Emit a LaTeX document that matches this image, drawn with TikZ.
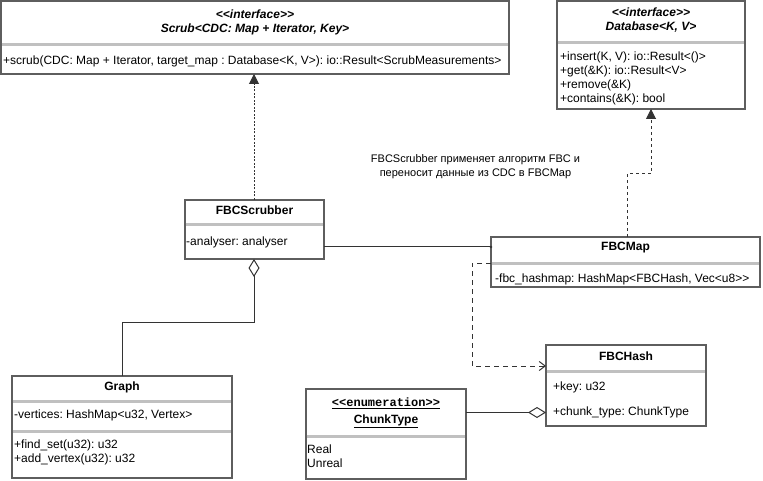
\documentclass[tikz,border=0pt]{standalone}
\usepackage{fontspec}
\setmainfont{Liberation Sans}[Ligatures=TeXOff]
\setmonofont{Liberation Mono}[Ligatures=TeXOff]
\usetikzlibrary{arrows.meta,calc}
\definecolor{bordc}{HTML}{5E5E5E}
\definecolor{sepc}{HTML}{C0C0C0}
\definecolor{linec}{HTML}{333333}
\frenchspacing
\begin{document}
\begin{tikzpicture}[x=1pt,y=-1pt,
  umlbox/.style={draw=bordc, line width=1.1pt, fill=white, anchor=north west, inner sep=0pt, outer sep=0pt},
  sepline/.style={draw=sepc, line width=3pt},
  ltxt/.style={inner sep=0pt, anchor=west, font=\fontsize{12}{14}\selectfont},
  ctitle/.style={inner sep=0pt, anchor=center, font=\fontsize{12}{14}\selectfont\bfseries},
  conn/.style={draw=linec, line width=1pt},
  realize/.style={conn, -{Triangle[length=10pt,width=10pt]}},
  aggr/.style={conn, -{Diamond[open,length=18pt,width=11pt]}},
  depend/.style={conn, dash pattern=on 5pt off 4pt, -{Straight Barb[length=6pt,width=9pt]}}
]
\useasboundingbox (0,0) rectangle (763,481);

% Scrub interface
\node[umlbox, minimum width=508pt, minimum height=73pt] (scrub) at (1,1) {};
\draw[sepline] (1.6,45) -- (508.4,45);
\node[ctitle] (scrubst) at (255,14) {\itshape <<interface>>};
\node[ctitle] (scrubname) at (255,29) {\itshape Scrub<CDC: Map + Iterator, Key>};
\node[ltxt] (scrubm) at (3,61) {+scrub(CDC: Map + Iterator, target\_map : Database<K, V>): io::Result<ScrubMeasurements>};

% Database interface
\node[umlbox, minimum width=188pt, minimum height=108pt] (db) at (557,1) {};
\draw[sepline] (557.6,43) -- (744.4,43);
\node[ctitle] (dbst) at (651,12) {\itshape <<interface>>};
\node[ctitle] (dbname) at (651,27) {\itshape Database<K, V>};
\node[ltxt] (db1) at (560,57) {+insert(K, V): io::Result<()>};
\node[ltxt] (db2) at (560,71) {+get(\&K): io::Result<V>};
\node[ltxt] (db3) at (560,85) {+remove(\&K)};
\node[ltxt] (db4) at (560,99) {+contains(\&K): bool};

% note
\node[inner sep=0pt, align=center, font=\fontsize{11}{14}\selectfont] (note) at (475.5,167)
  {FBCScrubber применяет алгоритм FBC и\\переносит данные из CDC в FBCMap};

% FBCScrubber
\node[umlbox, minimum width=139pt, minimum height=59pt] (fbcs) at (185,200) {};
\draw[sepline] (185.6,225) -- (323.4,225);
\node[ctitle] (fbcsname) at (254.5,210) {FBCScrubber};
\node[ltxt] (fbcsa) at (186,242) {-analyser: analyser};

% FBCMap
\node[umlbox, minimum width=269pt, minimum height=50pt] (fbcmap) at (491,237) {};
\draw[sepline] (491.6,263) -- (759.4,263);
\node[ctitle] (fbcmapname) at (625.5,248) {FBCMap};
\node[ltxt] (fbcmapa) at (495,279) {-fbc\_hashmap: HashMap<FBCHash, Vec<u8>>};

% FBCHash
\node[umlbox, minimum width=160pt, minimum height=81pt] (fbchash) at (546,345) {};
\draw[sepline] (546.6,371) -- (705.4,371);
\node[ctitle] (fbchashname) at (626,356) {FBCHash};
\node[ltxt] (fbchasha) at (553,387) {+key: u32};
\node[ltxt] (fbchashb) at (553,412.7) {+chunk\_type: ChunkType};

% ChunkType
\node[umlbox, minimum width=160pt, minimum height=90pt] (chunk) at (306,389) {};
\draw[sepline] (306.6,436) -- (465.4,436);
\node[ctitle, font=\fontsize{12}{14}\ttfamily\bfseries] (chunkst) at (386,403) {\underline{<<enumeration>>}};
\node[ctitle] (chunkname) at (386,421) {\underline{ChunkType}};
\node[ltxt] (chunk1) at (307,449) {Real};
\node[ltxt] (chunk2) at (307,463) {Unreal};

% Graph
\node[umlbox, minimum width=220pt, minimum height=102pt] (graph) at (12,376) {};
\draw[sepline] (12.6,401) -- (231.4,401);
\draw[sepline] (12.6,431) -- (231.4,431);
\node[ctitle] (graphname) at (122,387) {Graph};
\node[ltxt] (grapha) at (14,415) {-vertices: HashMap<u32, Vertex>};
\node[ltxt] (graphm1) at (14,445) {+find\_set(u32): u32};
\node[ltxt] (graphm2) at (14,459) {+add\_vertex(u32): u32};

% connectors
\draw[realize, dash pattern=on 2pt off 1.5pt] ([xshift=-0.5pt]fbcs.north) -- ([xshift=-0.5pt]fbcs.north |- scrub.south);
\draw[realize, dash pattern=on 3pt off 3pt] ([xshift=1.5pt]fbcmap.north) -- ++(0,-63) -| (db.south);
\coordinate (a1) at ([yshift=-17.5pt]fbcs.east);
\draw[conn] (a1) -- (a1 -| fbcmap.west);
\fill[linec] (a1 -| fbcmap.west) circle (1.3pt);
\draw[depend] ([yshift=-1pt]fbcmap.west) -- ++(-19,0) |- ([yshift=19.5pt]fbchash.west);
\coordinate (c1) at ([yshift=21.5pt]chunk.east);
\draw[aggr] (c1) -- (c1 -| fbchash.west);
\draw[aggr] (graph.north) -- ++(0,-54) -| ([xshift=-0.5pt]fbcs.south);
\end{tikzpicture}
\end{document}
